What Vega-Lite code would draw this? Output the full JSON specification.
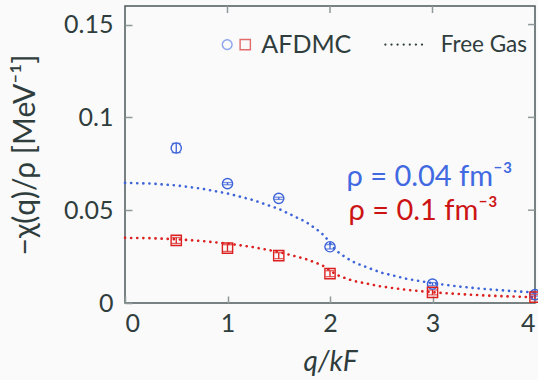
{
  "$schema": "https://vega.github.io/schema/vega-lite/v6.json",
  "width": 410,
  "height": 297,
  "autosize": {"type": "none"},
  "padding": {"left": 125, "top": 6, "right": 3, "bottom": 77},
  "background": "#fafafa",
  "config": {
    "font": "Lato",
    "view": {"stroke": "#4d5a5a", "strokeWidth": 1.5},
    "axis": {
      "grid": false,
      "domain": false,
      "zindex": 1,
      "labelFont": "Lato",
      "labelFontSize": 25,
      "labelColor": "#2f3d3d",
      "tickColor": "#8f9999",
      "tickWidth": 1.5,
      "tickSize": -7,
      "titleFont": "Lato",
      "titleFontSize": 30,
      "titleFontWeight": "normal",
      "titleColor": "#2f3d3d"
    }
  },
  "datasets": {
    "afdmc": [
      {"q": 0.5, "chi": 0.0835, "err": 0.0025, "rho": "0.04"},
      {"q": 1.0, "chi": 0.0643, "err": 0.0006, "rho": "0.04"},
      {"q": 1.5, "chi": 0.0564, "err": 0.0006, "rho": "0.04"},
      {"q": 2.0, "chi": 0.0303, "err": 0.0012, "rho": "0.04"},
      {"q": 3.0, "chi": 0.0102, "err": 0.0008, "rho": "0.04"},
      {"q": 4.0, "chi": 0.0045, "err": 0.0008, "rho": "0.04"},
      {"q": 0.5, "chi": 0.0337, "err": 0.0016, "rho": "0.1"},
      {"q": 1.0, "chi": 0.0296, "err": 0.0018, "rho": "0.1"},
      {"q": 1.5, "chi": 0.0255, "err": 0.0016, "rho": "0.1"},
      {"q": 2.0, "chi": 0.0158, "err": 0.0016, "rho": "0.1"},
      {"q": 3.0, "chi": 0.0057, "err": 0.0013, "rho": "0.1"},
      {"q": 4.0, "chi": 0.0032, "err": 0.0013, "rho": "0.1"}
    ],
    "fg": [
      {"q": 0, "chi": 0.0647, "rho": "0.04"},
      {"q": 0.25, "chi": 0.06436, "rho": "0.04"},
      {"q": 0.5, "chi": 0.06333, "rho": "0.04"},
      {"q": 0.75, "chi": 0.06158, "rho": "0.04"},
      {"q": 1.0, "chi": 0.05901, "rho": "0.04"},
      {"q": 1.25, "chi": 0.05548, "rho": "0.04"},
      {"q": 1.5, "chi": 0.05071, "rho": "0.04"},
      {"q": 1.75, "chi": 0.04408, "rho": "0.04"},
      {"q": 1.8, "chi": 0.0424, "rho": "0.04"},
      {"q": 1.9, "chi": 0.03843, "rho": "0.04"},
      {"q": 1.95, "chi": 0.03593, "rho": "0.04"},
      {"q": 2.0, "chi": 0.03235, "rho": "0.04"},
      {"q": 2.05, "chi": 0.02884, "rho": "0.04"},
      {"q": 2.1, "chi": 0.02649, "rho": "0.04"},
      {"q": 2.2, "chi": 0.02295, "rho": "0.04"},
      {"q": 2.25, "chi": 0.02153, "rho": "0.04"},
      {"q": 2.5, "chi": 0.01636, "rho": "0.04"},
      {"q": 2.75, "chi": 0.01301, "rho": "0.04"},
      {"q": 3.0, "chi": 0.01066, "rho": "0.04"},
      {"q": 3.25, "chi": 0.00891, "rho": "0.04"},
      {"q": 3.5, "chi": 0.00758, "rho": "0.04"},
      {"q": 3.75, "chi": 0.00653, "rho": "0.04"},
      {"q": 4.0, "chi": 0.00569, "rho": "0.04"},
      {"q": 0, "chi": 0.0351, "rho": "0.1"},
      {"q": 0.25, "chi": 0.03492, "rho": "0.1"},
      {"q": 0.5, "chi": 0.03436, "rho": "0.1"},
      {"q": 0.75, "chi": 0.03341, "rho": "0.1"},
      {"q": 1.0, "chi": 0.03201, "rho": "0.1"},
      {"q": 1.25, "chi": 0.0301, "rho": "0.1"},
      {"q": 1.5, "chi": 0.02751, "rho": "0.1"},
      {"q": 1.75, "chi": 0.02392, "rho": "0.1"},
      {"q": 1.8, "chi": 0.023, "rho": "0.1"},
      {"q": 1.9, "chi": 0.02085, "rho": "0.1"},
      {"q": 1.95, "chi": 0.01949, "rho": "0.1"},
      {"q": 2.0, "chi": 0.01755, "rho": "0.1"},
      {"q": 2.05, "chi": 0.01565, "rho": "0.1"},
      {"q": 2.1, "chi": 0.01437, "rho": "0.1"},
      {"q": 2.2, "chi": 0.01245, "rho": "0.1"},
      {"q": 2.25, "chi": 0.01168, "rho": "0.1"},
      {"q": 2.5, "chi": 0.00887, "rho": "0.1"},
      {"q": 2.75, "chi": 0.00706, "rho": "0.1"},
      {"q": 3.0, "chi": 0.00578, "rho": "0.1"},
      {"q": 3.25, "chi": 0.00484, "rho": "0.1"},
      {"q": 3.5, "chi": 0.00411, "rho": "0.1"},
      {"q": 3.75, "chi": 0.00354, "rho": "0.1"},
      {"q": 4.0, "chi": 0.00309, "rho": "0.1"}
    ],
    "xticks": [{"q": 1}, {"q": 2}, {"q": 3}],
    "yticks": [{"chi": 0.05}, {"chi": 0.1}, {"chi": 0.15}]
  },
  "layer": [
    {
      "data": {"name": "fg"},
      "mark": {"type": "line", "strokeDash": [0.1, 6], "strokeCap": "round", "strokeWidth": 2.6},
      "encoding": {
        "x": {"field": "q", "type": "quantitative", "scale": {"domain": [0, 4], "nice": false},
          "axis": {"orient": "bottom", "values": [0, 1, 2, 3, 4], "format": "d", "labelPadding": 15, "title": "q/kF", "titlePadding": 12, "titleFontSize": 28, "titleFontStyle": "italic"}},
        "y": {"field": "chi", "type": "quantitative", "scale": {"domain": [0, 0.16], "nice": false},
          "axis": {"orient": "left", "values": [0, 0.05, 0.1, 0.15], "labelExpr": "datum.value == 0 ? '0' : format(datum.value, '.2~f')", "labelPadding": 19, "title": "−χ(q)/ρ [MeV⁻¹]", "titleX": -100, "titleBaseline": "middle"}},
        "color": {"field": "rho", "type": "nominal", "scale": {"domain": ["0.04", "0.1"], "range": ["#3d63d8", "#dc1f1f"]}, "legend": null}
      }
    },
    {
      "data": {"name": "xticks"},
      "mark": {"type": "rule", "strokeWidth": 1.5, "color": "#8f9999"},
      "encoding": {
        "x": {"field": "q", "type": "quantitative", "axis": null},
        "y": {"datum": 0.16, "type": "quantitative", "axis": null},
        "y2": {"datum": 0.1562}
      }
    },
    {
      "data": {"name": "yticks"},
      "mark": {"type": "rule", "strokeWidth": 1.5, "color": "#8f9999"},
      "encoding": {
        "y": {"field": "chi", "type": "quantitative", "axis": null},
        "x": {"datum": 4, "type": "quantitative", "axis": null},
        "x2": {"datum": 3.932}
      }
    },
    {
      "data": {"name": "afdmc"},
      "mark": {"type": "errorbar", "ticks": {"size": 9}, "thickness": 1.3},
      "encoding": {
        "x": {"field": "q", "type": "quantitative", "axis": null},
        "y": {"field": "chi", "type": "quantitative", "axis": null},
        "yError": {"field": "err"},
        "color": {"field": "rho", "type": "nominal", "scale": {"domain": ["0.04", "0.1"], "range": ["#5a7fe6", "#d83030"]}, "legend": null}
      }
    },
    {
      "data": {"name": "afdmc"},
      "mark": {"type": "point", "filled": false, "strokeWidth": 1.4, "size": 105, "opacity": 1},
      "encoding": {
        "x": {"field": "q", "type": "quantitative", "axis": null},
        "y": {"field": "chi", "type": "quantitative", "axis": null},
        "color": {"field": "rho", "type": "nominal", "scale": {"domain": ["0.04", "0.1"], "range": ["#5a7fe6", "#d83030"]}, "legend": null},
        "shape": {"field": "rho", "type": "nominal", "scale": {"domain": ["0.04", "0.1"], "range": ["circle", "square"]}, "legend": null}
      }
    },
    {
      "data": {"values": [{}]},
      "mark": {"type": "point", "shape": "circle", "filled": false, "strokeWidth": 1.4, "size": 95, "color": "#5a7fe6"},
      "encoding": {"x": {"datum": 0.997, "type": "quantitative", "axis": null}, "y": {"datum": 0.1392, "type": "quantitative", "axis": null}}
    },
    {
      "data": {"values": [{}]},
      "mark": {"type": "point", "shape": "square", "filled": false, "strokeWidth": 1.4, "size": 105, "color": "#d83030"},
      "encoding": {"x": {"datum": 1.173, "type": "quantitative", "axis": null}, "y": {"datum": 0.1392, "type": "quantitative", "axis": null}}
    },
    {
      "data": {"values": [{}]},
      "mark": {"type": "text", "text": "AFDMC", "align": "left", "baseline": "middle", "fontSize": 25, "color": "#2f3d3d"},
      "encoding": {"x": {"datum": 1.33, "type": "quantitative", "axis": null}, "y": {"datum": 0.1392, "type": "quantitative", "axis": null}}
    },
    {
      "data": {"values": [{}]},
      "mark": {"type": "rule", "strokeDash": [0.1, 6], "strokeCap": "round", "strokeWidth": 2.2, "color": "#2f3d3d"},
      "encoding": {"x": {"datum": 2.54, "type": "quantitative", "axis": null}, "x2": {"datum": 2.93}, "y": {"datum": 0.1392, "type": "quantitative", "axis": null}}
    },
    {
      "data": {"values": [{}]},
      "mark": {"type": "text", "text": "Free Gas", "align": "left", "baseline": "middle", "fontSize": 22.5, "color": "#2f3d3d"},
      "encoding": {"x": {"datum": 3.08, "type": "quantitative", "axis": null}, "y": {"datum": 0.1392, "type": "quantitative", "axis": null}}
    },
    {
      "data": {"values": [{}]},
      "mark": {"type": "text", "text": "ρ = 0.04 fm⁻³", "align": "left", "baseline": "middle", "fontSize": 29, "color": "#4169e1"},
      "encoding": {"x": {"datum": 2.16, "type": "quantitative", "axis": null}, "y": {"datum": 0.068, "type": "quantitative", "axis": null}}
    },
    {
      "data": {"values": [{}]},
      "mark": {"type": "text", "text": "ρ = 0.1 fm⁻³", "align": "left", "baseline": "middle", "fontSize": 29, "color": "#cc1414"},
      "encoding": {"x": {"datum": 2.18, "type": "quantitative", "axis": null}, "y": {"datum": 0.0497, "type": "quantitative", "axis": null}}
    }
  ],
  "resolve": {"axis": {"x": "independent", "y": "independent"}}
}
